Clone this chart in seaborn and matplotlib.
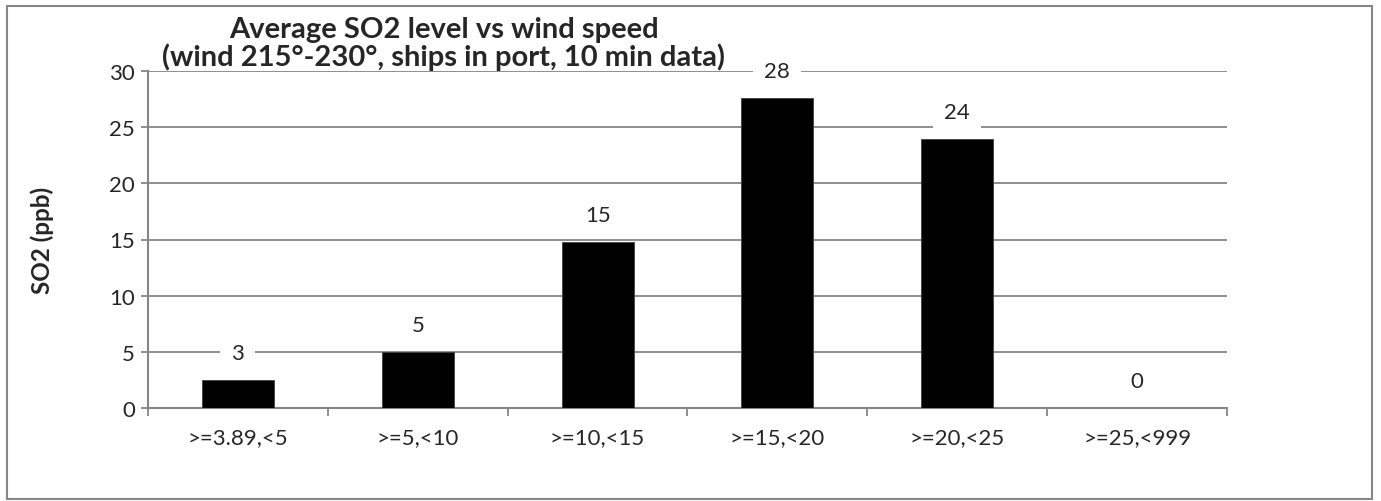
import matplotlib
matplotlib.use("Agg")
import matplotlib.pyplot as plt
from matplotlib.patches import Rectangle
import seaborn as sns

# chart data
categories = ['>=3.89,<5', '>=5,<10', '>=10,<15', '>=15,<20', '>=20,<25', '>=25,<999']
so2_ppb = [2.52, 5.0, 14.8, 27.6, 23.95, 0.0]
y_ticks = [0, 5, 10, 15, 20, 25, 30]

title = 'Average SO2 level vs wind speed\n(wind 215°-230°, ships in port, 10 min data)'
ylabel = 'SO2 (ppb)'

sns.set_style('white')
plt.rcParams['font.family'] = ['Lato', 'DejaVu Sans']

grey = '#868686'

fig = plt.figure(figsize=(13.81, 5.02), dpi=100)
ax = fig.add_axes([148 / 1381, 1 - 409 / 502, 1079 / 1381, 337 / 502])

sns.barplot(x=categories, y=so2_ppb, color='black', saturation=1, width=0.4,
            edgecolor='#404040', linewidth=0.6, ax=ax, zorder=3)

ax.set_xlim(-0.5, len(categories) - 0.5)
ax.set_ylim(0, 30)
ax.set_yticks(y_ticks)
ax.yaxis.grid(True, color=grey, linewidth=1.3, zorder=0)
ax.set_axisbelow(True)

for s in ['top', 'right']:
    ax.spines[s].set_visible(False)
for s in ['left', 'bottom']:
    ax.spines[s].set_color(grey)
    ax.spines[s].set_linewidth(1.5)

# category boundary ticks like Excel
ax.set_xticks([i - 0.5 for i in range(len(categories) + 1)], minor=True)
ax.tick_params(axis='x', which='minor', length=6, width=1.3, color=grey, direction='out', bottom=True)
ax.tick_params(axis='x', which='major', length=0, pad=14, labelsize=16)
ax.tick_params(axis='y', which='major', length=5, width=1.3, color=grey, direction='out',
               left=True, pad=4.5, labelsize=16)

ax.set_xlabel('')
ax.set_ylabel(ylabel, fontsize=17.5, fontweight='bold')
ax.yaxis.set_label_coords(-0.087, 0.5)

# value labels with white boxes
for i, v in enumerate(so2_ppb):
    ax.annotate(f'{v:.0f}', (i, v), xytext=(0, 19.5), textcoords='offset points',
                ha='center', va='center', fontsize=16, zorder=4,
                bbox=dict(boxstyle='square,pad=0.5', fc='white', ec='none'))

fig.text(444 / 1381, 1 - 44 / 502, title, ha='center', va='center',
         fontsize=21, fontweight='bold', linespacing=1.0, zorder=5)

# outer chart border
fig.patches.append(Rectangle((7 / 1381, 2 / 502), 1365 / 1381, 493 / 502,
                             transform=fig.transFigure, fill=False,
                             edgecolor=grey, linewidth=1.5))

fig.savefig('out.png', dpi=100)
